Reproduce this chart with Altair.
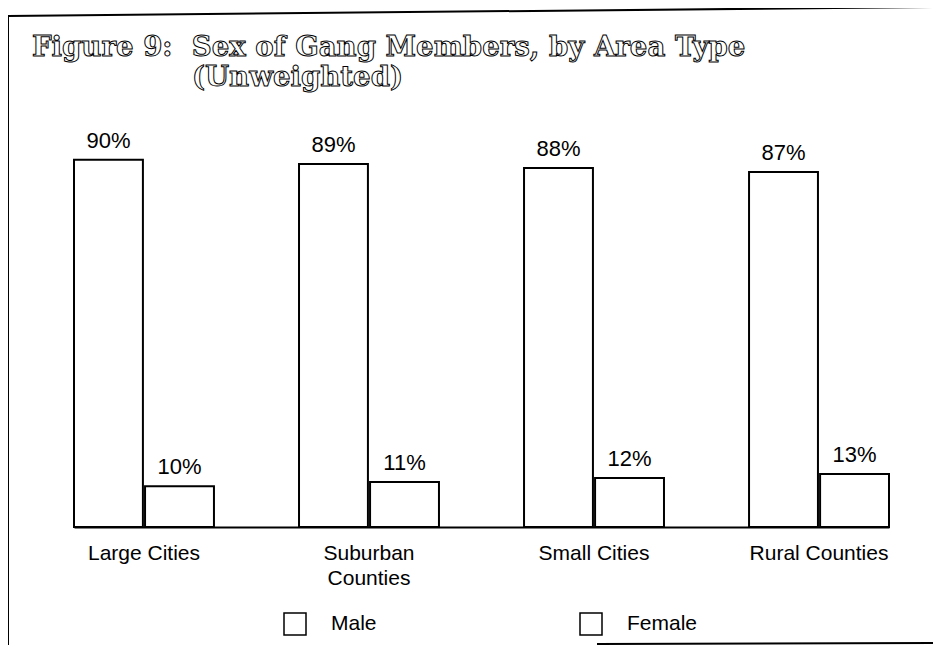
import altair as alt
import pandas as pd

# ---- data ----
areas = ["Large Cities", "Suburban Counties", "Small Cities", "Rural Counties"]
male = [90, 89, 88, 87]
female = [10, 11, 12, 13]
sexes = ["Male", "Female"]
title_line1 = "Figure 9:\u00a0 Sex of Gang Members, by Area Type"
title_line2 = "(Unweighted)"

rows = []
for a, m, f in zip(areas, male, female):
    rows.append({"area": a, "sex": "Male", "pct": m, "label": f"{m}%"})
    rows.append({"area": a, "sex": "Female", "pct": f, "label": f"{f}%"})
df = pd.DataFrame(rows)

FONT = "Liberation Sans"

x_enc = alt.X("area:N", sort=areas, title=None,
              scale=alt.Scale(paddingInner=0.378, paddingOuter=0),
              axis=alt.Axis(domainColor="black", domainWidth=2, ticks=False, grid=False,
                            labelAngle=0, labelFont=FONT, labelFontSize=21, labelColor="black",
                            labelPadding=15, labelLineHeight=25,
                            labelExpr="datum.label == 'Suburban Counties' ? ['Suburban', 'Counties'] : datum.label"))
xo_enc = alt.XOffset("sex:N", sort=sexes, scale=alt.Scale(paddingInner=0.03))
y_enc = alt.Y("pct:Q", scale=alt.Scale(domain=[0, 100]), axis=None)

base = alt.Chart(df)

bars = base.mark_bar(stroke="black", strokeWidth=2).encode(
    x=x_enc, xOffset=xo_enc, y=y_enc,
    color=alt.Color("sex:N", sort=sexes,
                    scale=alt.Scale(domain=sexes, range=["white", "white"]),
                    legend=alt.Legend(title=None, orient="none", direction="horizontal",
                                      legendX=209, legendY=493,
                                      symbolType="square", symbolSize=484,
                                      symbolStrokeColor="black", symbolStrokeWidth=1.5,
                                      symbolFillColor="white",
                                      labelFont=FONT, labelFontSize=21, labelColor="black",
                                      labelOffset=24, columnPadding=200)),
)

labels = base.mark_text(font=FONT, fontSize=22, color="black", baseline="bottom", dy=-7).encode(
    x=x_enc, xOffset=xo_enc, y=y_enc, text="label:N"
)

t1 = alt.Chart(pd.DataFrame({"t": [title_line1]})).mark_text(
    font="DejaVu Serif", fontWeight="bold", fontSize=27.6, align="left", baseline="alphabetic",
    fill="white", stroke="black", strokeWidth=1
).encode(x=alt.value(-42), y=alt.value(-63), text="t:N")

t2 = alt.Chart(pd.DataFrame({"t": [title_line2]})).mark_text(
    font="DejaVu Serif", fontWeight="bold", fontSize=27.6, align="left", baseline="alphabetic",
    fill="white", stroke="black", strokeWidth=1
).encode(x=alt.value(118), y=alt.value(-33), text="t:N")

frame_top = alt.Chart(pd.DataFrame({"k": [0]})).mark_rule(color="black", strokeWidth=2).encode(
    x=alt.value(-66), y=alt.value(-103), x2=alt.value(859), y2=alt.value(-112))
frame_left = alt.Chart(pd.DataFrame({"k": [0]})).mark_rule(color="black", strokeWidth=2).encode(
    x=alt.value(-66), y=alt.value(-104), x2=alt.value(-66), y2=alt.value(530))
frame_bottom = alt.Chart(pd.DataFrame({"k": [0]})).mark_rule(color="black", strokeWidth=2).encode(
    x=alt.value(523), y=alt.value(525), x2=alt.value(859), y2=alt.value(524))

chart = alt.layer(bars, labels, t1, t2, frame_top, frame_left, frame_bottom).properties(
    width=815, height=408,
    autosize=alt.AutoSizeParams(type="none"),
    padding={"left": 66, "top": 111, "right": 44, "bottom": 118},
    background="white",
).configure_view(stroke=None)

chart.save("out.html", embed_options={"renderer": "svg", "actions": False})
